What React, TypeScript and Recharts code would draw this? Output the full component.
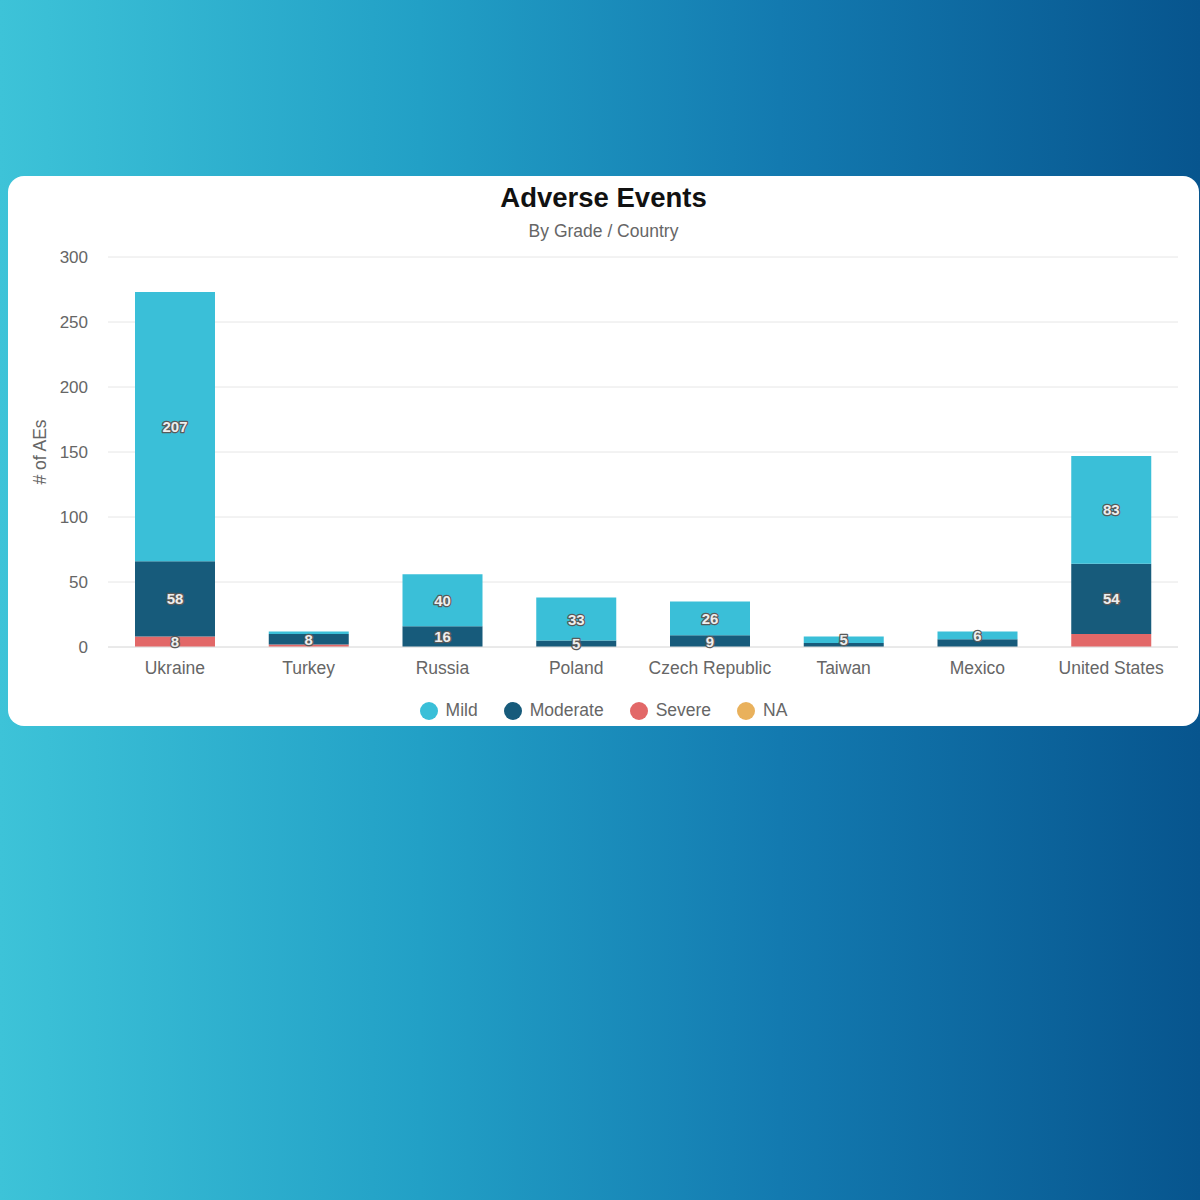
import React from "react";
import { BarChart, Bar, XAxis, YAxis, CartesianGrid, LabelList } from "recharts";

const countries = ["Ukraine", "Turkey", "Russia", "Poland", "Czech Republic", "Taiwan", "Mexico", "United States"];
const mild = [207, 2, 40, 33, 26, 5, 6, 83];
const moderate = [58, 8, 16, 5, 9, 3, 6, 54];
const severe = [8, 2, 0, 0, 0, 0, 0, 10];
const na = [0, 0, 0, 0, 0, 0, 0, 0];
const yTicks = [0, 50, 100, 150, 200, 250, 300];

const series = [
  { key: "mild", name: "Mild", color: "#3abfd8" },
  { key: "moderate", name: "Moderate", color: "#175b7b" },
  { key: "severe", name: "Severe", color: "#e26868" },
  { key: "na", name: "NA", color: "#e9b15c" },
];

const data = countries.map((name, i) => ({
  name,
  severe: severe[i],
  moderate: moderate[i],
  mild: mild[i],
  na: na[i],
}));

// hide small labels and ones that would overlap the label above (top-down like the original)
const showLabel: Record<string, boolean[]> = { mild: [], moderate: [], severe: [], na: [] };
data.forEach((d: any, i) => {
  const stackOrder = ["severe", "moderate", "mild", "na"];
  let base = 0;
  const centers: Record<string, number> = {};
  stackOrder.forEach((k) => {
    centers[k] = base + d[k] / 2;
    base += d[k];
  });
  let last: number | null = null;
  ["na", "mild", "moderate", "severe"].forEach((k) => {
    let ok = d[k] >= 5;
    if (ok && last !== null && Math.abs(last - centers[k]) < 8) ok = false;
    if (ok) last = centers[k];
    showLabel[k][i] = ok;
  });
});

const FONT = "'Liberation Sans', Arial, Helvetica, sans-serif";

const makeLabel = (key: string) => (props: any) => {
  const { x, y, width, height, value, index } = props;
  if (!showLabel[key][index]) return null;
  return (
    <text
      x={Number(x) + Number(width) / 2}
      y={Number(y) + Number(height) / 2}
      textAnchor="middle"
      dominantBaseline="central"
      fontFamily={FONT}
      fontSize={15}
      fontWeight="bold"
      fill="#eeeeee"
      stroke="#5a5a5a"
      strokeWidth={2.5}
      strokeLinejoin="round"
      paintOrder="stroke"
    >
      {value}
    </text>
  );
};

export default function App() {
  return (
    <div
      style={{
        position: "absolute",
        left: 0,
        top: 0,
        width: 1200,
        height: 1200,
        background: "linear-gradient(to right, #3dc3d8 0%, #22a0c6 35%, #137ab0 65%, #07558e 100%)",
        fontFamily: FONT,
      }}
    >
      <div
        style={{
          position: "absolute",
          left: 8,
          top: 176,
          width: 1191,
          height: 550,
          background: "#ffffff",
          borderRadius: 16,
          overflow: "hidden",
        }}
      >
        <div
          style={{
            position: "absolute",
            left: 0,
            width: "100%",
            top: 6,
            textAlign: "center",
            fontSize: 27.5,
            fontWeight: "bold",
            color: "#111",
          }}
        >
          Adverse Events
        </div>
        <div
          style={{
            position: "absolute",
            left: 0,
            width: "100%",
            top: 45,
            textAlign: "center",
            fontSize: 17.5,
            color: "#666",
          }}
        >
          By Grade / Country
        </div>
        <div
          style={{
            position: "absolute",
            left: 32,
            top: 276,
            transform: "translate(-50%, -50%) rotate(-90deg)",
            fontSize: 17.5,
            color: "#666",
            whiteSpace: "nowrap",
          }}
        >
          # of AEs
        </div>
        <div style={{ position: "absolute", left: 0, top: 0 }}>
          <BarChart
            width={1191}
            height={550}
            data={data}
            margin={{ top: 81, right: 21, bottom: 49, left: 0 }}
            barSize={80}
          >
            <CartesianGrid vertical={false} stroke="#e6e6e6" />
            <XAxis
              dataKey="name"
              height={30}
              tickSize={0}
              tickMargin={15}
              axisLine={{ stroke: "#e0e0e0" }}
              tickLine={false}
              interval={0}
              tick={{ fill: "#666", fontSize: 17.5, fontFamily: FONT }}
            />
            <YAxis
              width={100}
              domain={[0, 300]}
              ticks={yTicks}
              tickSize={0}
              tickMargin={20}
              axisLine={false}
              tickLine={false}
              tick={{ fill: "#666", fontSize: 17, fontFamily: FONT }}
            />
            {["severe", "moderate", "mild", "na"].map((k) => {
              const s = series.find((x) => x.key === k)!;
              return (
                <Bar key={k} dataKey={k} name={s.name} stackId="a" fill={s.color} isAnimationActive={false}>
                  <LabelList dataKey={k} content={makeLabel(k)} />
                </Bar>
              );
            })}
          </BarChart>
        </div>
        <div
          style={{
            position: "absolute",
            left: 0,
            width: "100%",
            top: 524,
            display: "flex",
            justifyContent: "center",
            alignItems: "center",
            fontSize: 17.5,
            color: "#666",
          }}
        >
          {series.map((s, i) => (
            <div
              key={s.key}
              style={{ display: "flex", alignItems: "center", marginLeft: i === 0 ? 0 : 26 }}
            >
              <span
                style={{
                  display: "inline-block",
                  width: 18,
                  height: 18,
                  borderRadius: 9,
                  background: s.color,
                  marginRight: 8,
                }}
              />
              <span>{s.name}</span>
            </div>
          ))}
        </div>
      </div>
    </div>
  );
}
